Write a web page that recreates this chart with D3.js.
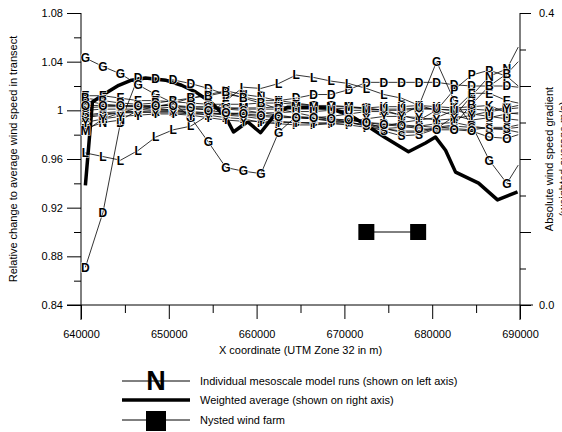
<!DOCTYPE html>
<html>
<head>
<meta charset="utf-8">
<script src="https://cdn.jsdelivr.net/npm/d3@7"></script>
<style>
  body { margin: 0; background: #fff; }
  svg { font-family: "Liberation Sans", Arial, sans-serif; }
</style>
</head>
<body>
<svg id="chart" width="562" height="432"></svg>
<script>
// x positions (UTM m) shared by the model runs
const xs = [640500, 642500, 644500, 646500, 648500, 650500, 652500, 654500, 656500,
            658500, 660500, 662500, 664500, 666500, 668500, 670500, 672500, 674500,
            676500, 678500, 680500, 682500, 684500, 686500, 688500, 689800];

// individual mesoscale model runs (left axis)
const runD = [0.871, 0.916, 0.990, 1.027, 1.026, 1.025, 1.022, 1.018, 1.013, 1.011, 1.008, 1.008, 1.010,
              1.013, 1.013, 1.017, 1.023, 1.023, 1.023, 1.023, 1.023, 1.021, 1.020, 1.020, 1.020, 1.019];
const runL = [0.965, 0.962, 0.959, 0.967, 0.978, 0.984, 0.987, 0.996, 1.008, 1.019, 1.018, 1.022, 1.029,
              1.027, 1.024, 1.022, 1.018, 1.013, 1.010, 1.004, 1.000, 0.996, 0.992, 0.994, 0.997, 0.998];
const runG = [1.043, 1.036, 1.030, 1.021, 1.013, 1.006, 0.994, 0.974, 0.953, 0.950, 0.948, 0.982, 0.995,
              0.994, 0.995, 0.997, 0.999, 0.999, 0.996, 1.004, 1.040, 1.008, 0.988, 0.959, 0.940, 0.955];
const runP = [1.008, 1.005, 1.004, 1.003, 1.002, 1.000, 0.998, 0.996, 0.994, 0.993, 0.990, 0.989, 0.988,
              0.988, 0.989, 0.990, 0.988, 0.987, 0.990, 0.992, 1.000, 1.017, 1.029, 1.033, 1.028, 1.020];
const runN = [0.985, 0.990, 0.992, 1.000, 1.003, 1.006, 1.010, 1.013, 1.016, 1.013, 1.011, 1.008, 1.006,
              1.004, 1.000, 0.995, 0.990, 0.985, 0.982, 0.982, 0.985, 0.995, 1.012, 1.028, 1.034, 1.052];
const runE = [1.012, 1.012, 1.010, 1.008, 1.008, 1.007, 1.006, 1.005, 1.005, 1.005, 1.006, 1.006, 1.005,
              1.004, 1.004, 1.003, 1.002, 1.000, 0.996, 0.992, 0.994, 1.000, 1.014, 1.014, 1.008, 1.006];
const runK = [0.995, 0.997, 0.998, 0.999, 1.000, 1.000, 1.001, 1.001, 1.002, 1.001, 1.001, 1.001, 1.001,
              1.001, 1.001, 1.002, 1.002, 1.003, 1.003, 1.004, 1.003, 1.002, 1.003, 1.004, 0.998, 0.997];
const runM = [0.983, 0.993, 0.998, 1.002, 1.004, 1.004, 1.003, 1.003, 1.002, 1.002, 1.002, 1.003, 1.003,
              1.003, 1.003, 1.003, 1.001, 1.000, 1.000, 1.001, 1.001, 1.000, 1.001, 1.000, 1.002, 1.004];
const runB = [1.010, 1.008, 1.006, 1.005, 1.006, 1.008, 1.010, 1.012, 1.015, 1.010, 1.006, 1.001, 0.998,
              0.995, 0.993, 0.990, 0.988, 0.985, 0.983, 0.983, 0.986, 0.988, 1.005, 1.020, 1.030, 1.040];
const runU = [0.996, 0.998, 0.999, 0.999, 0.998, 0.998, 0.997, 0.997, 0.997, 0.998, 0.998, 0.998, 0.999,
              0.999, 1.000, 1.000, 1.000, 1.001, 1.001, 1.002, 1.001, 1.000, 0.997, 0.995, 0.993, 0.992];
const runR = [0.994, 0.996, 0.998, 0.998, 0.999, 0.999, 0.998, 0.998, 0.997, 0.996, 0.995, 0.994, 0.994,
              0.993, 0.992, 0.992, 0.990, 0.989, 0.988, 0.987, 0.989, 0.990, 0.987, 0.985, 0.984, 0.982];
const runF = [1.000, 1.001, 1.001, 1.001, 1.001, 1.000, 0.999, 0.998, 0.996, 0.995, 0.993, 0.991, 0.990,
              0.990, 0.989, 0.988, 0.986, 0.985, 0.986, 0.987, 0.986, 0.985, 0.984, 0.986, 0.986, 0.988];
const runS = [1.002, 1.003, 1.003, 1.003, 1.003, 1.002, 1.002, 1.002, 1.001, 1.000, 0.998, 0.996, 0.994,
              0.993, 0.991, 0.990, 0.987, 0.983, 0.979, 0.980, 0.985, 0.987, 0.986, 0.985, 0.985, 0.986];
const runY = [0.990, 0.993, 0.995, 0.996, 0.997, 0.997, 0.996, 0.994, 0.992, 0.991, 0.991, 0.990, 0.990,
              0.989, 0.990, 0.991, 0.993, 0.995, 0.995, 0.994, 0.992, 0.993, 0.996, 0.999, 1.001, 1.002];
const runO = [1.004, 1.004, 1.004, 1.004, 1.004, 1.004, 1.002, 1.000, 0.998, 0.997, 0.996, 0.995, 0.994,
              0.994, 0.993, 0.992, 0.990, 0.988, 0.987, 0.985, 0.984, 0.984, 0.983, 0.978, 0.977, 0.980];

// weighted average gradient (right axis)
const avgX = [640500, 641300, 642800, 644300, 645750, 647350, 649620, 651450, 653040, 654870,
              656450, 657370, 658970, 660450, 662040, 663520, 665800, 668080, 670360, 672400,
              674680, 677300, 679240, 680380, 681520, 682660, 685280, 687440, 689720];
const avgY = [0.164, 0.278, 0.290, 0.301, 0.308, 0.311, 0.308, 0.301, 0.292, 0.277,
              0.258, 0.237, 0.251, 0.236, 0.260, 0.271, 0.271, 0.270, 0.262, 0.247,
              0.229, 0.210, 0.222, 0.230, 0.212, 0.182, 0.167, 0.144, 0.155];

// Nysted wind farm (drawn against right axis)
const farmX = [672500, 678400];
const farmY = [0.1, 0.1];

const xTicks = d3.range(640000, 690001, 5000);
const leftTicks = d3.range(0.84, 1.0801, 0.02);
const rightTicks = d3.range(0, 0.4001, 0.05);

const runs = [
  { letter: "D", values: runD }, { letter: "L", values: runL }, { letter: "G", values: runG },
  { letter: "P", values: runP }, { letter: "N", values: runN }, { letter: "E", values: runE },
  { letter: "K", values: runK }, { letter: "M", values: runM }, { letter: "B", values: runB },
  { letter: "U", values: runU }, { letter: "R", values: runR }, { letter: "F", values: runF },
  { letter: "S", values: runS }, { letter: "Y", values: runY }, { letter: "O", values: runO }
];

const svg = d3.select("#chart");
const plotLeft = 81, plotRight = 520, plotTop = 13, plotBottom = 305;

const x = d3.scaleLinear().domain([640000, 690000]).range([plotLeft, plotRight]);
const yL = d3.scaleLinear().domain([0.84, 1.08]).range([plotBottom, plotTop]);
const yR = d3.scaleLinear().domain([0, 0.4]).range([plotBottom, plotTop]);

const isMajor = (v, step) => Math.abs(v / step - Math.round(v / step)) < 1e-6;
const styleLabels = g => g.selectAll("text").style("font-size", "11px").attr("fill", "#000")
  .style("font-family", "Liberation Sans, Arial, sans-serif");

//x axis
svg.append("g").attr("transform", `translate(0,${plotBottom})`)
  .call(d3.axisBottom(x).tickValues(xTicks.filter(v => !isMajor(v, 10000))).tickSize(8).tickFormat(""))
  .call(g => g.select(".domain").remove());
svg.append("g").attr("transform", `translate(0,${plotBottom})`)
  .call(d3.axisBottom(x).tickValues(xTicks.filter(v => isMajor(v, 10000))).tickSize(14).tickPadding(11)
    .tickFormat(d3.format("d")))
  .call(g => g.select(".domain").remove())
  .call(styleLabels);
svg.append("line").attr("x1", 67).attr("x2", 533).attr("y1", plotBottom).attr("y2", plotBottom).attr("stroke", "#000");

//left axis
svg.append("g").attr("transform", `translate(${plotLeft},0)`)
  .call(d3.axisLeft(yL).tickValues(leftTicks.filter(v => !isMajor(v, 0.04))).tickSize(7).tickFormat(""))
  .call(g => g.select(".domain").remove());
svg.append("g").attr("transform", `translate(${plotLeft},0)`)
  .call(d3.axisLeft(yL).tickValues(leftTicks.filter(v => isMajor(v, 0.04))).tickSize(14).tickPadding(4)
    .tickFormat(d => Math.abs(d - 1) < 1e-6 ? "1" : d3.format(".2f")(d)))
  .call(g => g.select(".domain").remove())
  .call(styleLabels);
svg.append("line").attr("x1", plotLeft).attr("x2", plotLeft).attr("y1", plotTop).attr("y2", 320).attr("stroke", "#000");

//right axis
svg.append("g").attr("transform", `translate(${plotRight},0)`)
  .call(d3.axisRight(yR).tickValues(rightTicks.filter(v => !isMajor(v, 0.1))).tickSize(6).tickFormat(""))
  .call(g => g.select(".domain").remove());
svg.append("g").attr("transform", `translate(${plotRight},0)`)
  .call(d3.axisRight(yR).tickValues(rightTicks.filter(v => isMajor(v, 0.1))).tickSize(11).tickPadding(8)
    .tickFormat(d => (d < 0.01 || d > 0.39) ? d3.format(".1f")(d) : ""))
  .call(g => g.select(".domain").remove())
  .call(styleLabels);
svg.append("line").attr("x1", plotRight).attr("x2", plotRight).attr("y1", plotTop).attr("y2", 320).attr("stroke", "#000");

//axis titles
svg.append("text")
  .attr("transform", `translate(17,${(plotTop + plotBottom) / 2}) rotate(-90)`)
  .attr("text-anchor", "middle").style("font-size", "11px")
  .text("Relative change to average wind speed in transect");
svg.append("text")
  .attr("transform", `translate(553,${(plotTop + plotBottom) / 2}) rotate(-90)`)
  .attr("text-anchor", "middle").style("font-size", "11px")
  .text("Absolute wind speed gradient");
svg.append("text")
  .attr("transform", `translate(567,${(plotTop + plotBottom) / 2}) rotate(-90)`)
  .attr("text-anchor", "middle").style("font-size", "11px")
  .text("(weighted average m/s)");
svg.append("text")
  .attr("x", (plotLeft + plotRight) / 2).attr("y", 354)
  .attr("text-anchor", "middle").style("font-size", "11px")
  .text("X coordinate (UTM Zone 32 in m)");

//model run lines
const runLine = d3.line().x((d, i) => x(xs[i])).y(d => yL(d));
runs.forEach(r => {
  svg.append("path")
    .attr("d", runLine(r.values))
    .attr("fill", "none").attr("stroke", "#000").attr("stroke-width", 0.8);
});

//weighted average
const avgLine = d3.line().x((d, i) => x(avgX[i])).y(d => yR(d));
svg.append("path")
  .attr("d", avgLine(avgY))
  .attr("fill", "none").attr("stroke", "#000").attr("stroke-width", 3.5)
  .attr("stroke-linejoin", "round");

//letter markers
runs.forEach(r => {
  r.values.slice(0, xs.length - 1).forEach((v, i) => {
    svg.append("text")
      .attr("x", x(xs[i])).attr("y", yL(v))
      .attr("text-anchor", "middle").attr("dy", "0.36em")
      .style("font-size", "12px").style("font-weight", "bold")
      .attr("stroke", "#fff").attr("stroke-width", 1.2).attr("paint-order", "stroke")
      .text(r.letter);
  });
});

//wind farm
svg.append("line")
  .attr("x1", x(farmX[0])).attr("x2", x(farmX[1]))
  .attr("y1", yR(farmY[0])).attr("y2", yR(farmY[1]))
  .attr("stroke", "#000");
farmX.forEach((fx, i) => {
  svg.append("rect")
    .attr("x", x(fx) - 8).attr("y", yR(farmY[i]) - 8)
    .attr("width", 16).attr("height", 16).attr("fill", "#000");
});

//legend
const legend = [
  { label: "Individual mesoscale model runs (shown on left axis)", y: 381, kind: "run" },
  { label: "Weighted average (shown on right axis)", y: 400, kind: "avg" },
  { label: "Nysted wind farm", y: 420, kind: "farm" }
];
legend.forEach(l => {
  svg.append("line")
    .attr("x1", 122).attr("x2", 190).attr("y1", l.y).attr("y2", l.y)
    .attr("stroke", "#000").attr("stroke-width", l.kind === "avg" ? 3.5 : 1);
  if (l.kind === "run") {
    svg.append("text").attr("x", 156).attr("y", l.y + 9)
      .attr("text-anchor", "middle").style("font-size", "27px").style("font-weight", "bold")
      .text("N");
  }
  if (l.kind === "farm") {
    svg.append("rect").attr("x", 146).attr("y", l.y - 9).attr("width", 20).attr("height", 20).attr("fill", "#000");
  }
  svg.append("text").attr("x", 200).attr("y", l.y + 4)
    .style("font-size", "11px").text(l.label);
});
</script>
</body>
</html>
